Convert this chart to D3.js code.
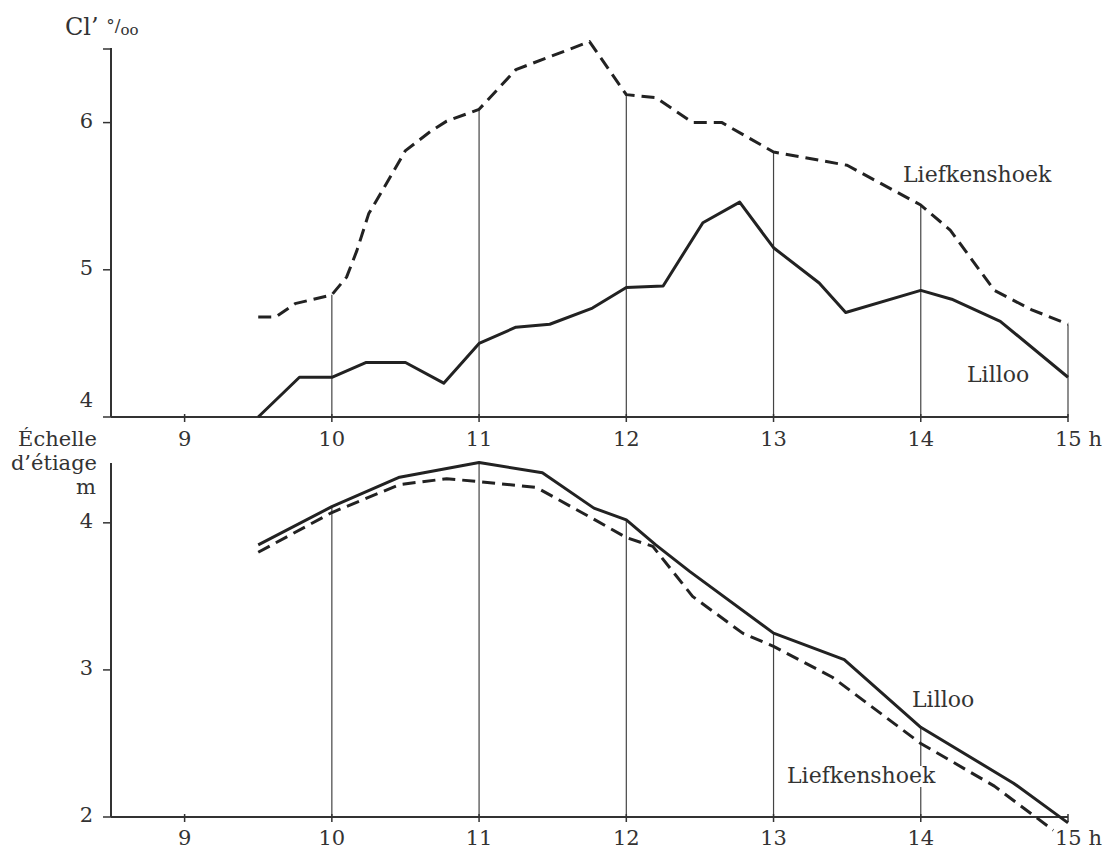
<!DOCTYPE html>
<html>
<head>
<meta charset="utf-8">
<script src="https://cdn.jsdelivr.net/npm/d3@7"></script>
<style>
  body { margin: 0; background: #fff; }
  svg { display: block; }
  text { font-family: "DejaVu Serif", serif; fill: #333; }
</style>
</head>
<body>
<div id="chart"></div>
<script>
// Hours on the shared time axis
var hours = [9, 10, 11, 12, 13, 14, 15];
var hourLabels = ["9", "10", "11", "12", "13", "14", "15 h"];
var gridHours = [10, 11, 12, 13, 14, 15];

// Chlorinity (Cl' per mille) - top panel
var clTicks = [4, 5, 6];
var clLiefT = [9.5, 9.62, 9.75, 10, 10.1, 10.17, 10.25, 10.35, 10.5, 10.67, 10.78, 11, 11.25, 11.75, 12, 12.2, 12.45, 12.65, 13, 13.5, 14, 14.2, 14.5, 14.75, 15];
var clLiefV = [4.68, 4.68, 4.77, 4.83, 4.95, 5.13, 5.38, 5.55, 5.81, 5.94, 6.01, 6.09, 6.36, 6.55, 6.19, 6.17, 6.00, 6.00, 5.80, 5.71, 5.44, 5.27, 4.86, 4.73, 4.63];
var clLilT = [9.5, 9.78, 10, 10.23, 10.5, 10.76, 11, 11.25, 11.48, 11.77, 12, 12.25, 12.52, 12.77, 13, 13.31, 13.49, 14, 14.21, 14.54, 15];
var clLilV = [4.0, 4.27, 4.27, 4.37, 4.37, 4.23, 4.50, 4.61, 4.63, 4.74, 4.88, 4.89, 5.32, 5.46, 5.15, 4.91, 4.71, 4.86, 4.80, 4.65, 4.27];

// Gauge level (Echelle d'etiage, m) - bottom panel
var levelTicks = [2, 3, 4];
var lvLilT = [9.5, 10, 10.46, 11, 11.43, 11.78, 12, 12.2, 12.43, 13, 13.48, 14, 14.63, 15];
var lvLilV = [3.85, 4.11, 4.31, 4.41, 4.34, 4.10, 4.02, 3.85, 3.67, 3.25, 3.07, 2.61, 2.23, 1.96];
var lvLiefT = [9.5, 10, 10.46, 10.78, 11, 11.39, 11.77, 12, 12.18, 12.45, 12.79, 13, 13.4, 14, 14.5, 14.9];
var lvLiefV = [3.80, 4.07, 4.26, 4.30, 4.28, 4.24, 4.03, 3.90, 3.84, 3.50, 3.25, 3.16, 2.95, 2.50, 2.21, 1.91];

var W = 1110, H = 853;
var svg = d3.select('#chart').append('svg').attr('width', W).attr('height', H);

var x = d3.scaleLinear().domain([8.5, 15]).range([111, 1068]);
var yTop = d3.scaleLinear().domain([4, 6.5]).range([417, 49]);
var yBot = d3.scaleLinear().domain([2, 4.4]).range([817, 464]);

function zip(ts, vs) {
	return ts.map(function (t, i) { return { t: t, v: vs[i] }; });
}

function valueAt(ts, vs, h) {
	var i = ts.indexOf(h);
	return i < 0 ? null : vs[i];
}

function panel(y, series, yTicks, labelY, topTick) {
	var g = svg.append('g');

	// vertical hour lines up to the highest curve
	gridHours.forEach(function (h) {
		var vals = series.map(function (s) { return valueAt(s.t, s.v, h); })
			.filter(function (v) { return v !== null; });
		if (!vals.length) return;
		var top = d3.max(vals);
		if (top < y.domain()[0]) return;
		g.append('line')
			.attr('x1', x(h)).attr('x2', x(h))
			.attr('y1', y(y.domain()[0])).attr('y2', y(top))
			.style('stroke', '#444').style('stroke-width', 1.2);
	});

	// axes
	var y0 = y(y.domain()[0]);
	g.append('line').attr('x1', x(8.5)).attr('x2', x(15)).attr('y1', y0).attr('y2', y0)
		.style('stroke', '#333').style('stroke-width', 2);
	g.append('line').attr('x1', x(8.5)).attr('x2', x(8.5)).attr('y1', y0).attr('y2', y.range()[1] - 1)
		.style('stroke', '#333').style('stroke-width', 2);

	g.selectAll('.xt').data(hours).enter().append('line')
		.attr('x1', x).attr('x2', x)
		.attr('y1', y0 - 3).attr('y2', y0 + 5)
		.style('stroke', '#333').style('stroke-width', 1.5);

	g.selectAll('.xl').data(hours).enter().append('text')
		.attr('x', function (d, i) { return i === hours.length - 1 ? x(d) - 13 : x(d); })
		.attr('y', labelY)
		.attr('text-anchor', function (d, i) { return i === hours.length - 1 ? 'start' : 'middle'; })
		.style('font-size', '21px')
		.text(function (d, i) { return hourLabels[i]; });

	var yt = yTicks.slice();
	if (topTick) yt.push(y.domain()[1]);
	g.selectAll('.yt').data(yt).enter().append('line')
		.attr('x1', x(8.5) - 8).attr('x2', x(8.5))
		.attr('y1', y).attr('y2', y)
		.style('stroke', '#333').style('stroke-width', 1.5);

	g.selectAll('.yl').data(yTicks).enter().append('text')
		.attr('x', 93)
		.attr('y', function (d) { return (topTick && d === y.domain()[0]) ? y(d) - 10 : y(d) + 5; })
		.attr('text-anchor', 'end')
		.style('font-size', '21px')
		.text(function (d) { return d; });

	var line = d3.line().x(function (d) { return x(d.t); }).y(function (d) { return y(d.v); });
	series.forEach(function (s) {
		g.append('path')
			.datum(zip(s.t, s.v))
			.attr('d', line)
			.style('fill', 'none')
			.style('stroke', '#222')
			.style('stroke-width', 3)
			.style('stroke-linejoin', 'round')
			.style('stroke-dasharray', s.dash ? '13,7' : null);
	});
	return g;
}

var gTop = panel(yTop, [
	{ t: clLiefT, v: clLiefV, dash: true },
	{ t: clLilT, v: clLilV, dash: false }
], clTicks, 446, true);

var gBot = panel(yBot, [
	{ t: lvLiefT, v: lvLiefV, dash: true },
	{ t: lvLilT, v: lvLilV, dash: false }
], levelTicks, 845, false);

// series labels
function label(g, tx, ty, s, bg) {
	var t = g.append('text').attr('x', tx).attr('y', ty).style('font-size', '22px').text(s);
	if (bg) {
		var b = t.node().getBBox();
		g.insert('rect', 'text').attr('x', b.x - 2).attr('y', b.y + 3).attr('width', b.width + 4).attr('height', b.height - 4)
			.style('fill', '#fff');
	}
}
label(gTop, 903, 182, 'Liefkenshoek');
label(gTop, 967, 382, 'Lilloo');
label(gBot, 912, 707, 'Lilloo');
label(gBot, 787, 783, 'Liefkenshoek', true);

// axis titles
var t1 = svg.append('text').attr('x', 65).attr('y', 35).style('font-size', '24px');
t1.append('tspan').text('Cl’ ');
t1.append('tspan').style('font-size', '17px').attr('dy', -4).text('°/');
t1.append('tspan').style('font-size', '15px').attr('dy', 4).text('oo');

svg.append('text').attr('x', 97).attr('y', 446).attr('text-anchor', 'end').style('font-size', '21px').text('Échelle');
svg.append('text').attr('x', 97).attr('y', 470).attr('text-anchor', 'end').style('font-size', '21px').text('d’étiage');
svg.append('text').attr('x', 96).attr('y', 494).attr('text-anchor', 'end').style('font-size', '21px').text('m');
</script>
</body>
</html>
